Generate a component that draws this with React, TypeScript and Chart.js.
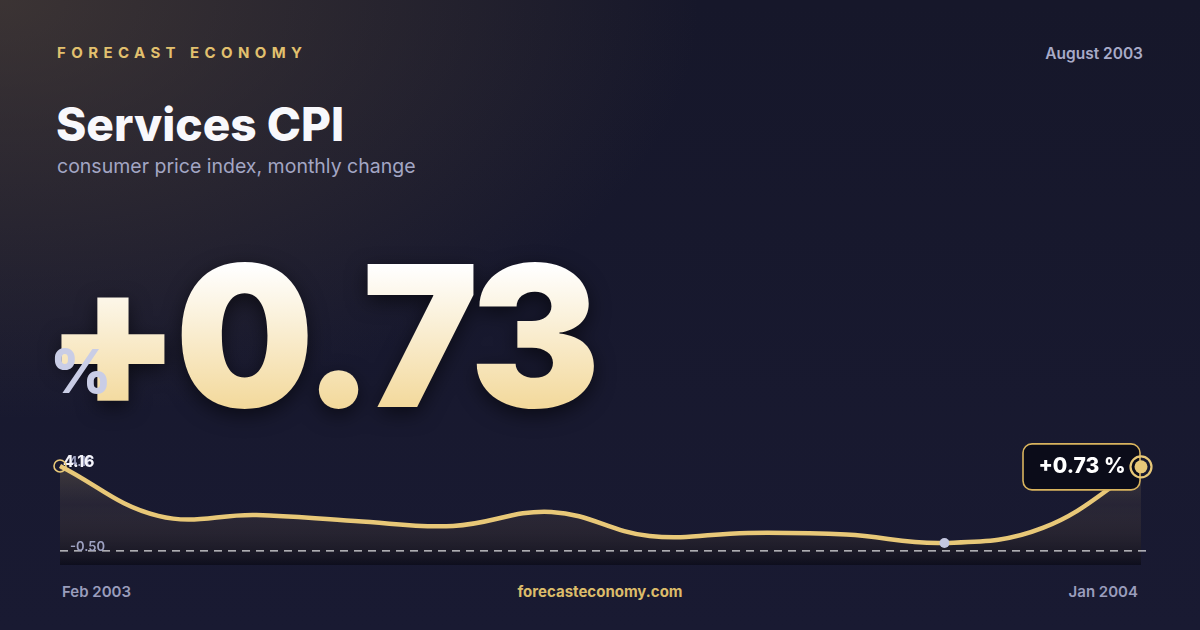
import React, { useEffect, useRef } from "react";
import { Chart, registerables } from "chart.js";

Chart.register(...registerables);

const months = [
  "Feb 2003", "Mar 2003", "Apr 2003", "May 2003", "Jun 2003", "Jul 2003",
  "Aug 2003", "Sep 2003", "Oct 2003", "Nov 2003", "Dec 2003", "Jan 2004",
];
const values = [4.16, 1.42, 1.47, 1.14, 0.87, 1.64, 0.32, 0.49, 0.4, -0.06, 0.76, 4.11];
const axisLevels = [4.16, -0.5];
const axisLabels = ["4.16", "-0.50"];
const firstValueLabel = "4.16";
const yMin = -1.27;
const yMax = 4.76;

const brand = "FORECAST ECONOMY";
const dateLabel = "August 2003";
const title = "Services CPI";
const subtitle = "consumer price index, monthly change";
const headline = "+0.73";
const calloutLabel = "+0.73 %";
const site = "forecasteconomy.com";

const GOLD = "#e8c878";
const FONT = "Inter, 'Noto Sans', sans-serif";

const overlayPlugin = {
  id: "overlay",
  afterDatasetsDraw(chart: any) {
    const { ctx, chartArea } = chart;
    const y = chart.scales.y;
    const meta = chart.getDatasetMeta(0);
    const pts = meta.data;
    const yRef = y.getPixelForValue(axisLevels[1]);
    const yTop = y.getPixelForValue(axisLevels[0]);
    ctx.save();
    // dashed reference line
    ctx.strokeStyle = "rgba(255,255,255,0.85)";
    ctx.lineWidth = 1.3;
    ctx.setLineDash([8, 6]);
    ctx.beginPath();
    ctx.moveTo(chartArea.left, yRef);
    ctx.lineTo(chartArea.right + 6, yRef);
    ctx.stroke();
    ctx.setLineDash([]);

    // axis labels
    ctx.font = `600 13px ${FONT}`;
    ctx.fillStyle = "#9ea2c2";
    ctx.textAlign = "left";
    ctx.textBaseline = "middle";
    ctx.fillText(axisLabels[1], chartArea.left + 10, yRef - 4);
    ctx.fillText(axisLabels[0], chartArea.left + 9, yTop - 4);
    ctx.font = `700 16px ${FONT}`;
    ctx.fillStyle = "#f4f4fa";
    ctx.fillText(firstValueLabel, chartArea.left + 3, yTop - 4);

    // first point ring
    const p0 = pts[0];
    ctx.strokeStyle = GOLD;
    ctx.lineWidth = 1.6;
    ctx.beginPath();
    ctx.arc(p0.x, p0.y, 6, 0, Math.PI * 2);
    ctx.stroke();

    // min dot
    let mi = 0;
    values.forEach((v, i) => { if (v < values[mi]) mi = i; });
    const pm = pts[mi];
    ctx.fillStyle = "#c4c7e0";
    ctx.beginPath();
    ctx.arc(pm.x, pm.y, 5, 0, Math.PI * 2);
    ctx.fill();

    // callout
    const pl = pts[pts.length - 1];
    const bx = pl.x - 118;
    const by = pl.y - 23;
    const bw = 117;
    const bh = 46;
    ctx.fillStyle = "#0b0c19";
    ctx.strokeStyle = "#d9b45e";
    ctx.lineWidth = 1.6;
    ctx.beginPath();
    (ctx as any).roundRect(bx, by, bw, bh, 9);
    ctx.fill();
    ctx.stroke();
    ctx.font = `800 21px ${FONT}`;
    ctx.fillStyle = "#ffffff";
    ctx.textAlign = "center";
    ctx.textBaseline = "middle";
    ctx.fillText(calloutLabel, bx + bw / 2 + 0.5, pl.y);

    // last point marker
    ctx.strokeStyle = GOLD;
    ctx.lineWidth = 2.2;
    ctx.beginPath();
    ctx.arc(pl.x, pl.y, 10.5, 0, Math.PI * 2);
    ctx.stroke();
    ctx.fillStyle = GOLD;
    ctx.beginPath();
    ctx.arc(pl.x, pl.y, 6.5, 0, Math.PI * 2);
    ctx.fill();
    ctx.restore();
  },
};

function SparkChart() {
  const ref = useRef<HTMLCanvasElement>(null);
  useEffect(() => {
    if (!ref.current) return;
    const chart = new Chart(ref.current, {
      type: "line",
      data: {
        labels: months,
        datasets: [
          {
            data: values,
            borderColor: GOLD,
            borderWidth: 4.5,
            tension: 0.4,
            pointRadius: 0,
            fill: "start",
            backgroundColor: (c: any) => {
              const area = c.chart.chartArea;
              if (!area) return "rgba(232,200,120,0.15)";
              const g = c.chart.ctx.createLinearGradient(0, area.top, 0, area.bottom);
              g.addColorStop(0, "rgba(232,200,120,0.24)");
              g.addColorStop(0.45, "rgba(120,100,80,0.16)");
              g.addColorStop(1, "rgba(6,6,14,0.55)");
              return g;
            },
          },
        ],
      },
      options: {
        animation: false,
        responsive: false,
        maintainAspectRatio: false,
        layout: { padding: { left: 20, right: 19, top: 25, bottom: 10 } },
        plugins: { legend: { display: false }, tooltip: { enabled: false } },
        scales: {
          x: { display: false },
          y: { display: false, min: yMin, max: yMax },
        },
      },
      plugins: [overlayPlugin],
    });
    return () => chart.destroy();
  }, []);
  return <canvas ref={ref} width={1120} height={145} style={{ width: 1120, height: 145, display: "block" }} />;
}

export default function App() {
  return (
    <div
      style={{
        position: "fixed",
        left: 0,
        top: 0,
        width: 1200,
        height: 630,
        overflow: "hidden",
        fontFamily: FONT,
        background:
          "radial-gradient(ellipse 700px 420px at 0px 0px, rgba(90,75,60,0.55), rgba(90,75,60,0) 100%), linear-gradient(180deg, #16172a 0%, #191a32 100%)",
      }}
    >
      <div
        style={{
          position: "absolute",
          left: 57,
          top: 43,
          fontSize: 15,
          fontWeight: 700,
          letterSpacing: "5.4px",
          color: "#e2c06e",
          lineHeight: "20px",
        }}
      >
        {brand}
      </div>
      <div
        style={{
          position: "absolute",
          right: 57,
          top: 44,
          fontSize: 15.5,
          fontWeight: 600,
          color: "#a8abc8",
          lineHeight: "20px",
        }}
      >
        {dateLabel}
      </div>
      <div
        style={{
          position: "absolute",
          left: 56,
          top: 96,
          fontSize: 46,
          fontWeight: 800,
          color: "#f8f8fc",
          lineHeight: "56px",
        }}
      >
        {title}
      </div>
      <div
        style={{
          position: "absolute",
          left: 57,
          top: 153,
          fontSize: 19.5,
          fontWeight: 400,
          color: "#a3a6c4",
          lineHeight: "26px",
        }}
      >
        {subtitle}
      </div>
      <div
        style={{
          position: "absolute",
          left: 45,
          top: 218,
          fontSize: 196,
          fontWeight: 900,
          lineHeight: "236px",
          letterSpacing: "-6px",
          background: "linear-gradient(180deg, #ffffff 20%, #f2d694 85%)",
          WebkitBackgroundClip: "text",
          backgroundClip: "text",
          color: "transparent",
          filter: "drop-shadow(0 6px 10px rgba(0,0,0,0.55))",
          whiteSpace: "nowrap",
        }}
      >
        {headline}
      </div>
      <div
        style={{
          position: "absolute",
          left: 50,
          top: 336,
          fontSize: 60,
          fontWeight: 800,
          color: "#c9cde6",
          lineHeight: "70px",
        }}
      >
        %
      </div>
      <div style={{ position: "absolute", left: 40, top: 430 }}>
        <SparkChart />
      </div>
      <div
        style={{
          position: "absolute",
          left: 62,
          top: 583,
          fontSize: 15,
          fontWeight: 600,
          color: "#9a9dbc",
          lineHeight: "18px",
        }}
      >
        {months[0]}
      </div>
      <div
        style={{
          position: "absolute",
          left: 0,
          width: 1200,
          textAlign: "center",
          top: 583,
          fontSize: 15,
          fontWeight: 700,
          color: "#dcbc6a",
          lineHeight: "18px",
        }}
      >
        {site}
      </div>
      <div
        style={{
          position: "absolute",
          right: 62,
          top: 583,
          fontSize: 15,
          fontWeight: 600,
          color: "#9a9dbc",
          lineHeight: "18px",
        }}
      >
        {months[months.length - 1]}
      </div>
    </div>
  );
}
